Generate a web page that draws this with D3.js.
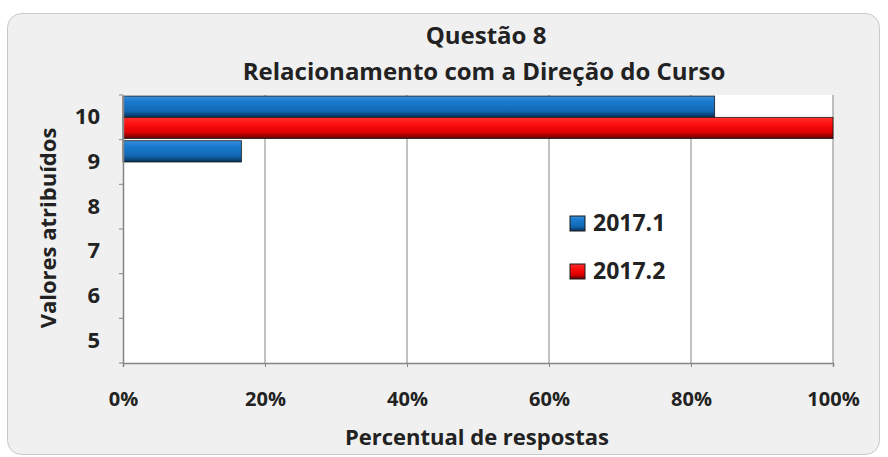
<!DOCTYPE html>
<html>
<head>
<meta charset="utf-8">
<script src="https://cdn.jsdelivr.net/npm/d3@7"></script>
<style>
  body { margin: 0; background: #fff; }
  text { font-family: "Open Sans", sans-serif; font-weight: bold; fill: #222; }
</style>
</head>
<body>
<div id="chart"></div>
<script>
// values
var categories = ["10", "9", "8", "7", "6", "5"];
var seriesNames = ["2017.1", "2017.2"];
var serie1 = [83.33, 16.67, 0, 0, 0, 0];   // 2017.1
var serie2 = [100, 0, 0, 0, 0, 0];         // 2017.2
var xTicks = [0, 20, 40, 60, 80, 100];

var W = 888, H = 457;
var margin = {top: 95, right: 55, bottom: 94, left: 123};
var width = W - margin.left - margin.right,
    height = H - margin.top - margin.bottom;

var svg = d3.select("#chart").append("svg")
    .attr("width", W)
    .attr("height", H);

var defs = svg.append("defs");
function grad(id, stops) {
    var g = defs.append("linearGradient").attr("id", id)
        .attr("x1", 0).attr("y1", 0).attr("x2", 0).attr("y2", 1);
    stops.forEach(function(s) {
        g.append("stop").attr("offset", s[0]).attr("stop-color", s[1]);
    });
}
grad("gBlue", [[0, "#3a8fd8"], [0.25, "#1a7ad0"], [0.7, "#1268b4"], [1, "#06305a"]]);
grad("gRed", [[0, "#ff3030"], [0.3, "#ff1010"], [0.7, "#e00000"], [1, "#600000"]]);

// chart background
svg.append("rect")
    .attr("x", 7.5).attr("y", 13.5)
    .attr("width", 872).attr("height", 441)
    .attr("rx", 14)
    .attr("fill", "#f0f0f0")
    .attr("stroke", "#c8c8c8");

var g = svg.append("g")
    .attr("transform", "translate(" + margin.left + "," + margin.top + ")");

var x = d3.scaleLinear().domain([0, 100]).range([0, width]);
var y = d3.scaleBand().domain(categories).range([0, height]);
var ySub = d3.scaleBand().domain(seriesNames).range([0, y.bandwidth()]).paddingOuter(0.05);

g.append("rect")
    .attr("width", width).attr("height", height)
    .attr("fill", "#fff");

// grid lines
g.selectAll(".grid")
    .data(xTicks.slice(1))
    .enter().append("line")
    .attr("x1", function(d) { return x(d); })
    .attr("x2", function(d) { return x(d); })
    .attr("y1", 0).attr("y2", height)
    .attr("stroke", "#858585");

var data = [];
categories.forEach(function(c, i) {
    data.push({cat: c, s: seriesNames[0], v: serie1[i], fill: "url(#gBlue)"});
    data.push({cat: c, s: seriesNames[1], v: serie2[i], fill: "url(#gRed)"});
});

g.selectAll(".bar")
    .data(data.filter(function(d) { return d.v > 0; }))
    .enter().append("rect")
    .attr("class", "bar")
    .attr("x", 0)
    .attr("y", function(d) { return y(d.cat) + ySub(d.s); })
    .attr("width", function(d) { return x(d.v); })
    .attr("height", ySub.bandwidth())
    .attr("fill", function(d) { return d.fill; })
    .attr("stroke", "#1a1a1a")
    .attr("stroke-width", 0.8);

// axes
var xAxis = g.append("g")
    .attr("transform", "translate(0," + height + ")")
    .call(d3.axisBottom(x).tickValues(xTicks).tickSize(4).tickFormat(function(d) { return d + "%"; }));
xAxis.select(".domain").attr("stroke", "#858585").attr("stroke-width", 1.5);
xAxis.selectAll(".tick line").attr("stroke", "#858585");
xAxis.selectAll(".tick text").attr("dy", 0).attr("y", 43).style("font-size", "20px").attr("fill", "#222");

var yAxis = g.append("g")
    .call(d3.axisLeft(y).tickSize(0).tickPadding(23));
yAxis.select(".domain").attr("stroke", "#858585").attr("stroke-width", 1.5);
yAxis.selectAll(".tick text").style("font-size", "22px").attr("fill", "#222");
// band boundary ticks
g.selectAll(".yb")
    .data(categories.map(function(c) { return y(c); }).concat([height]))
    .enter().append("line")
    .attr("x1", -4).attr("x2", 0)
    .attr("y1", function(d) { return d; }).attr("y2", function(d) { return d; })
    .attr("stroke", "#858585");

// titles
svg.append("text").attr("x", 486).attr("y", 44).attr("text-anchor", "middle")
    .style("font-size", "24px").text("Questão 8");
svg.append("text").attr("x", 484).attr("y", 80).attr("text-anchor", "middle")
    .style("font-size", "24px").text("Relacionamento com a Direção do Curso");
svg.append("text").attr("x", 477).attr("y", 445).attr("text-anchor", "middle")
    .style("font-size", "22px").text("Percentual de respostas");
svg.append("text")
    .attr("transform", "translate(56,228) rotate(-90)")
    .attr("text-anchor", "middle")
    .style("font-size", "22px").text("Valores atribuídos");

// legend
var legend = svg.append("g").attr("transform", "translate(570,216)");
var li = legend.selectAll(".li")
    .data(seriesNames)
    .enter().append("g")
    .attr("transform", function(d, i) { return "translate(0," + (i * 48) + ")"; });
li.append("rect")
    .attr("width", 15).attr("height", 15)
    .attr("fill", function(d, i) { return i === 0 ? "url(#gBlue)" : "url(#gRed)"; })
    .attr("stroke", "#1a1a1a");
li.append("text").attr("x", 23).attr("y", 15)
    .style("font-size", "23px").text(function(d) { return d; });
</script>
</body>
</html>
